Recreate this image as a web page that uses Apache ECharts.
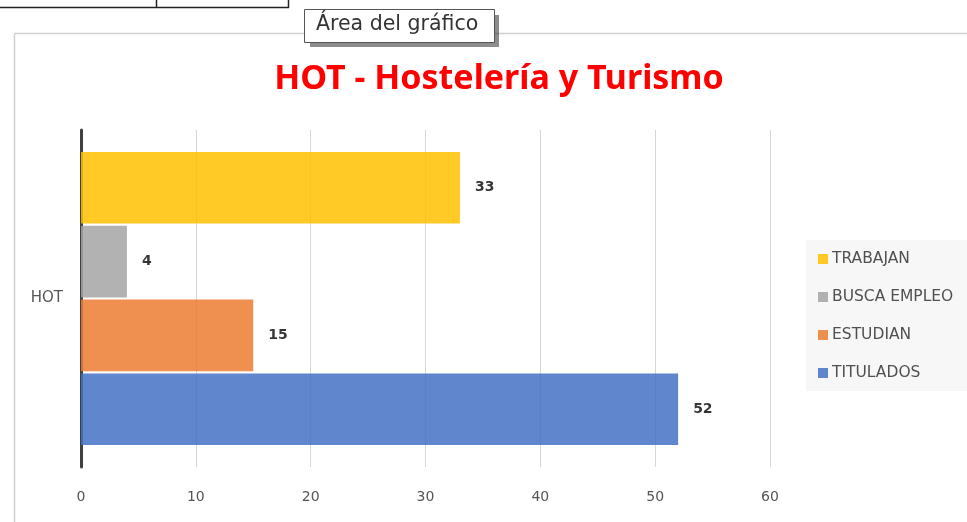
<!DOCTYPE html>
<html>
<head>
<meta charset="utf-8">
<script src="https://cdn.jsdelivr.net/npm/echarts@6/dist/echarts.min.js"></script>
<style>html,body{margin:0;padding:0;background:#fff;}#c{width:967px;height:522px;}</style>
</head>
<body>
<div id="c"></div>
<script>
var categories = ['HOT'];
var seriesNames = ['TRABAJAN', 'BUSCA EMPLEO', 'ESTUDIAN', 'TITULADOS'];
var trabajanValues = [33];
var buscaEmpleoValues = [4];
var estudianValues = [15];
var tituladosValues = [52];
var xTicks = [0, 10, 20, 30, 40, 50, 60];
var colors = ['#FFC000', '#A5A5A5', '#ED7D31', '#4472C4'];
var valuesList = [trabajanValues, buscaEmpleoValues, estudianValues, tituladosValues];

var chart = echarts.init(document.getElementById('c'), null, {renderer: 'canvas'});
var font = '"DejaVu Sans", sans-serif';
var series = seriesNames.map(function (n, i) {
  return {
    name: n, type: 'bar', data: valuesList[i],
    barGap: '3%', barCategoryGap: '13%',
    itemStyle: {color: colors[i], opacity: 0.85},
    label: {show: true, position: 'right', distance: 15, color: '#111', fontSize: 14, fontWeight: 'bold', fontFamily: font},
    emphasis: {disabled: true}
  };
});
chart.setOption({
  animation: false,
  color: colors,
  title: {
    text: 'HOT - Hostelería y Turismo', left: 494, top: 57, textAlign: 'center',
    textStyle: {color: '#FF0000', fontSize: 34, fontWeight: 'bold', fontFamily: '"Noto Sans", sans-serif'}
  },
  legend: {
    data: seriesNames, orient: 'vertical', left: 806, top: 240,
    backgroundColor: '#f7f7f7', padding: [10, 16, 9, 12],
    itemWidth: 10, itemHeight: 10, itemGap: 20, icon: 'rect',
    textStyle: {color: '#505050', fontSize: 15.5, fontFamily: font, padding: [0, 0, 0, -1], lineHeight: 18}
  },
  grid: {left: 81, right: 197, top: 130, bottom: 55, containLabel: false},
  xAxis: {
    type: 'value', min: xTicks[0], max: xTicks[xTicks.length - 1], interval: 10,
    axisLine: {show: false}, axisTick: {show: false},
    splitLine: {lineStyle: {color: '#d6d6d6', width: 1}},
    axisLabel: {color: '#555', fontSize: 14, margin: 23, fontFamily: font}
  },
  yAxis: {
    type: 'category', data: categories,
    axisLine: {lineStyle: {color: '#404040', width: 3}},
    axisTick: {show: false},
    axisLabel: {color: '#555', fontSize: 15, margin: 18, fontFamily: font}
  },
  series: series,
  graphic: [
    {type: 'line', shape: {x1: 0, y1: 7.5, x2: 289, y2: 7.5}, style: {stroke: '#222', lineWidth: 1.5}},
    {type: 'line', shape: {x1: 156.5, y1: 0, x2: 156.5, y2: 8}, style: {stroke: '#222', lineWidth: 1.5}},
    {type: 'line', shape: {x1: 288.5, y1: 0, x2: 288.5, y2: 8}, style: {stroke: '#222', lineWidth: 1.5}},
    {type: 'line', shape: {x1: 14.5, y1: 33.5, x2: 14.5, y2: 522}, style: {stroke: '#cfcfcf', lineWidth: 1.5}},
    {type: 'line', shape: {x1: 14.5, y1: 33.5, x2: 967, y2: 33.5}, style: {stroke: '#cfcfcf', lineWidth: 1.5}},
    {type: 'rect', shape: {x: 310, y: 15, width: 189, height: 32}, style: {fill: 'rgba(0,0,0,0.45)'}, z: 10},
    {type: 'rect', shape: {x: 304.5, y: 9.5, width: 190, height: 33}, style: {fill: '#fff', stroke: '#555', lineWidth: 1}, z: 11},
    {type: 'text', left: 316, top: 14, style: {text: 'Área del gráfico', fill: '#333', fontSize: 20.5, fontFamily: font}, z: 12}
  ]
});
</script>
</body>
</html>
